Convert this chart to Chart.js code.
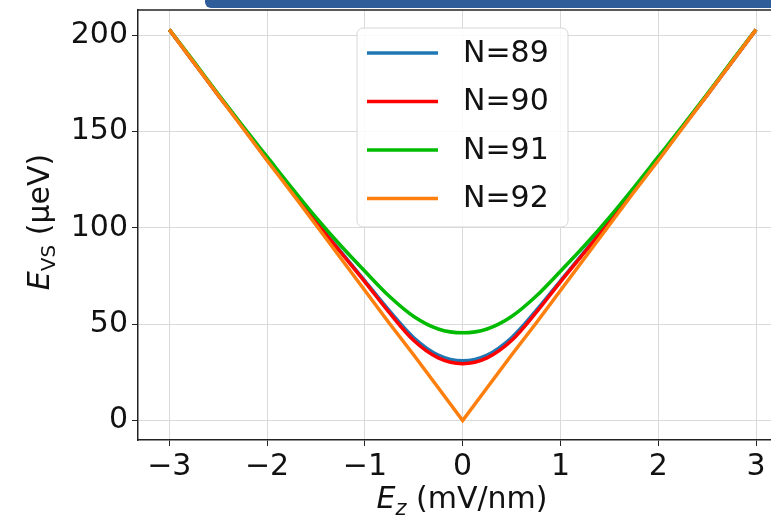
<!DOCTYPE html>
<html>
<head>
<meta charset="utf-8">
<script src="https://cdn.jsdelivr.net/npm/chart.js@4"></script>
<style>
  body { margin: 0; background: #fff; }
  #wrap { position: relative; width: 771px; height: 523px; }
  #topbar { position: absolute; left: 205px; top: 0; width: 566px; height: 8px;
            background: #2f5d99; border-radius: 0 0 0 6px; }
</style>
</head>
<body>
<div id="wrap">
  <canvas id="evsChart" width="771" height="523"></canvas>
  <div id="topbar"></div>
</div>
<script>
// field values E_z (mV/nm)
const ezValues = [-3, -2.75, -2.5, -2.25, -2, -1.75, -1.5, -1.25, -1, -0.75, -0.5, -0.25, 0,
                  0.25, 0.5, 0.75, 1, 1.25, 1.5, 1.75, 2, 2.25, 2.5, 2.75, 3];

// E_VS (ueV) per N
const n89 = [203, 186, 169, 152.5, 135.5, 119.5, 103.5, 88, 72.5, 57, 43, 34, 31,
             34, 43, 57, 72.5, 88, 103.5, 119.5, 135.5, 152.5, 169, 186, 203];
const n90 = [203, 186, 169, 152.5, 135.5, 119.5, 103, 87.5, 72, 56, 41.5, 32.5, 29.5,
             32.5, 41.5, 56, 72, 87.5, 103, 119.5, 135.5, 152.5, 169, 186, 203];
const n91 = [203, 186.5, 169.5, 153, 137, 121, 105.5, 91, 77.5, 64.5, 54, 47.5, 45.5,
             47.5, 54, 64.5, 77.5, 91, 105.5, 121, 137, 153, 169.5, 186.5, 203];
const n92 = [203, 186, 169, 152, 135, 118.5, 101.5, 84.5, 67.5, 50.5, 34, 17, 0,
             17, 34, 50.5, 67.5, 84.5, 101.5, 118.5, 135, 152, 169, 186, 203];

const seriesLabels = ["N=89", "N=90", "N=91", "N=92"];
const xTicks = [-3, -2, -1, 0, 1, 2, 3];
const yTicks = [0, 50, 100, 150, 200];

const FONT = "'DejaVu Sans', sans-serif";
const ctx = document.getElementById("evsChart").getContext("2d");

function pts(ys) {
  return ezValues.map((x, i) => ({ x: x, y: ys[i] }));
}

// legend + axis titles + top border, drawn by hand (matplotlib look)
const extras = {
  id: "extras",
  afterDraw(chart) {
    const c = chart.ctx;
    const a = chart.chartArea;
    c.save();

    // top spine
    c.strokeStyle = "#222";
    c.lineWidth = 1.5;
    c.beginPath();
    c.moveTo(a.left, a.top);
    c.lineTo(a.right, a.top);
    c.stroke();

    // legend box
    const bx = 357, by = 28, bw = 211, bh = 199, r = 6;
    c.fillStyle = "rgba(255,255,255,0.85)";
    c.strokeStyle = "#d6d6d6";
    c.lineWidth = 1;
    c.beginPath();
    c.roundRect(bx, by, bw, bh, r);
    c.fill();
    c.stroke();

    c.font = "30px " + FONT;
    c.textBaseline = "middle";
    c.fillStyle = "#111";
    chart.data.datasets.forEach((ds, i) => {
      const yy = 53 + i * 48.5;
      c.strokeStyle = ds.borderColor;
      c.lineWidth = 3.5;
      c.beginPath();
      c.moveTo(367, yy);
      c.lineTo(438, yy);
      c.stroke();
      c.fillText(ds.label, 463, yy + 1);
    });

    // x title: E_z (mV/nm)
    c.textBaseline = "alphabetic";
    c.fillStyle = "#111";
    const big = "30px " + FONT, bigI = "italic 30px " + FONT, small = "italic 21px " + FONT;
    c.font = bigI; const wE = c.measureText("E").width;
    c.font = small; const wz = c.measureText("z").width;
    c.font = big; const wr = c.measureText(" (mV/nm)").width;
    let x0 = 462 - (wE + wz + wr) / 2;
    const base = 508;
    c.font = bigI; c.fillText("E", x0, base); x0 += wE;
    c.font = small; c.fillText("z", x0, base + 7); x0 += wz;
    c.font = big; c.fillText(" (mV/nm)", x0, base);

    // y title: E_VS (ueV)
    c.translate(49, 222);
    c.rotate(-Math.PI / 2);
    const smallU = "20px " + FONT;
    c.font = bigI; const wE2 = c.measureText("E").width;
    c.font = smallU; const wv = c.measureText("VS").width;
    c.font = big; const wu = c.measureText(" (\u00b5eV)").width;
    let y0 = -(wE2 + wv + wu) / 2;
    c.font = bigI; c.fillText("E", y0, 0); y0 += wE2;
    c.font = smallU; c.fillText("VS", y0, 6); y0 += wv;
    c.font = big; c.fillText(" (\u00b5eV)", y0, 0);

    c.restore();
  }
};

const lineBase = { borderWidth: 3.5, pointRadius: 0, fill: false, cubicInterpolationMode: "monotone" };

new Chart(ctx, {
  type: "line",
  data: {
    datasets: [
      Object.assign({ label: seriesLabels[0], data: pts(n89), borderColor: "#1f77b4", order: 4 }, lineBase),
      Object.assign({ label: seriesLabels[1], data: pts(n90), borderColor: "#ff0000", order: 3 }, lineBase),
      Object.assign({ label: seriesLabels[2], data: pts(n91), borderColor: "#00bb00", order: 2 }, lineBase),
      Object.assign({ label: seriesLabels[3], data: pts(n92), borderColor: "#ff7f0e", order: 1 }, lineBase, { cubicInterpolationMode: "default", tension: 0 })
    ]
  },
  options: {
    responsive: false,
    animation: false,
    layout: { padding: { top: 10, left: 0, right: 0, bottom: 0 } },
    plugins: { legend: { display: false }, tooltip: { enabled: false } },
    scales: {
      x: {
        type: "linear",
        min: -3.32,
        max: 3.153,
        afterBuildTicks: s => { s.ticks = xTicks.map(v => ({ value: v })); },
        afterFit: s => { s.height = 83; s.paddingLeft = 0; s.paddingRight = 0; },
        grid: { color: "#dadada", lineWidth: 1, tickColor: "#222", tickLength: 6 },
        border: { display: true, color: "#222", width: 1.5 },
        ticks: {
          font: { family: FONT, size: 30 },
          color: "#111",
          padding: 3,
          maxRotation: 0,
          callback: v => (v < 0 ? "\u2212" + Math.abs(v) : String(v))
        }
      },
      y: {
        min: -10.15,
        max: 213.2,
        afterBuildTicks: s => { s.ticks = yTicks.map(v => ({ value: v })); },
        afterFit: s => { s.width = 138; s.paddingTop = 0; s.paddingBottom = 0; },
        grid: { color: "#dadada", lineWidth: 1, tickColor: "#222", tickLength: 6 },
        border: { display: true, color: "#222", width: 1.5 },
        ticks: {
          font: { family: FONT, size: 30 },
          color: "#111",
          padding: 4
        }
      }
    }
  },
  plugins: [extras]
});
</script>
</body>
</html>
